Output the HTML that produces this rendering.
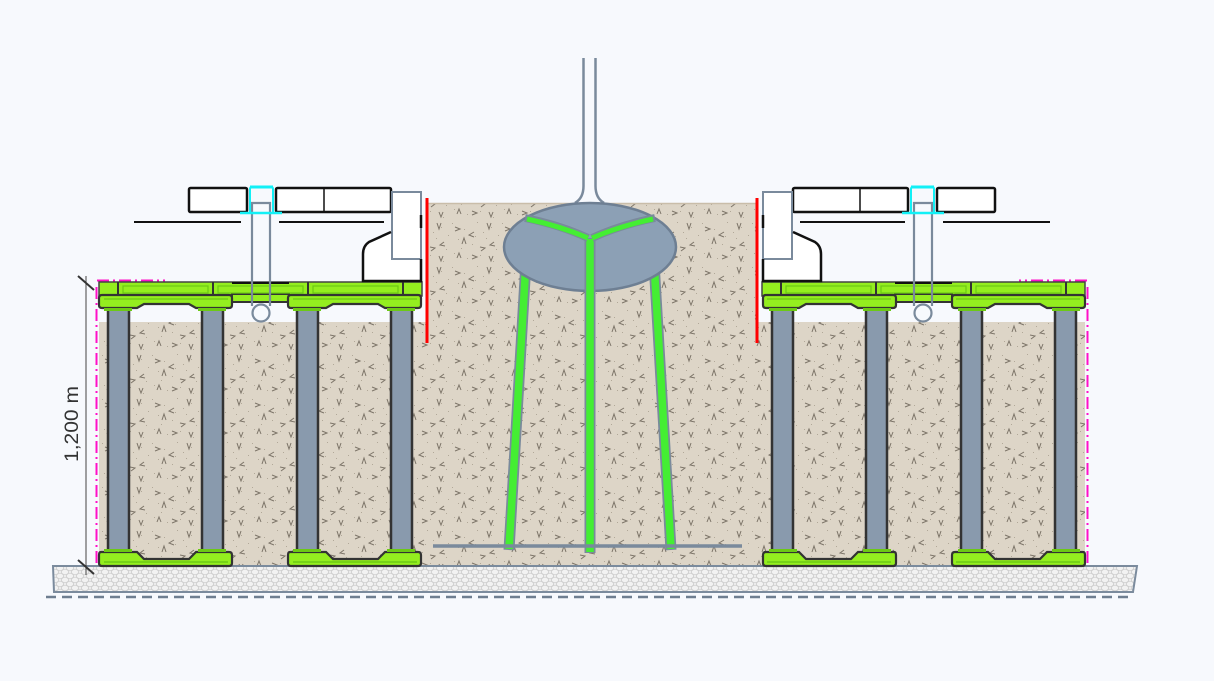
<!DOCTYPE html>
<html><head><meta charset="utf-8"><style>
html,body{margin:0;padding:0;background:#f7f9fd;}
svg{display:block;}
</style></head><body>
<svg xmlns="http://www.w3.org/2000/svg" width="1214" height="681" viewBox="0 0 1214 681">
<defs>
<pattern id="soil" width="50" height="44" patternUnits="userSpaceOnUse">
<rect width="50" height="44" fill="#ddd5c7"/>
<g fill="#b1a898">
<rect x="2" y="3" width="1" height="1"/><rect x="14" y="9" width="1" height="1"/><rect x="27" y="2" width="1" height="1"/><rect x="41" y="7" width="1" height="1"/>
<rect x="8" y="19" width="1" height="1"/><rect x="22" y="24" width="1" height="1"/><rect x="36" y="18" width="1" height="1"/><rect x="46" y="29" width="1" height="1"/>
<rect x="4" y="33" width="1" height="1"/><rect x="17" y="38" width="1" height="1"/><rect x="30" y="35" width="1" height="1"/><rect x="43" y="41" width="1" height="1"/>
<rect x="11" y="28" width="1" height="1"/><rect x="33" y="12" width="1" height="1"/><rect x="25" y="16" width="1" height="1"/><rect x="48" y="15" width="1" height="1"/>
</g>
<g fill="none" stroke="#7d7569" stroke-width="1">
<path d="M5 7 l5 2 l-5 2"/>
<path d="M24 12 l-5 3 l5 2"/>
<path d="M37 3 l2 6 l2 -6"/>
<path d="M12 24 l2 -6 l2 6"/>
<path d="M30 27 l5 1 l-4 3"/>
<path d="M44 22 l-4 3 l5 1"/>
<path d="M7 38 l2 -5 l2 5"/>
<path d="M22 35 l5 2 l-5 2"/>
<path d="M39 36 l2 5 l2 -5"/>
</g>
</pattern>
<pattern id="gravel" width="10" height="8" patternUnits="userSpaceOnUse">
<rect width="10" height="8" fill="#f2f2f2"/>
<g fill="none" stroke="#cfcfcf" stroke-width="0.9">
<ellipse cx="5" cy="4" rx="3.6" ry="2.8"/>
<ellipse cx="0" cy="0" rx="3.6" ry="2.8"/>
<ellipse cx="10" cy="0" rx="3.6" ry="2.8"/>
<ellipse cx="0" cy="8" rx="3.6" ry="2.8"/>
<ellipse cx="10" cy="8" rx="3.6" ry="2.8"/>
</g>
</pattern>
</defs>

<rect width="1214" height="681" fill="#f7f9fd"/>

<!-- soils -->
<rect x="99" y="322" width="986" height="244" fill="url(#soil)"/>
<rect x="428" y="203" width="329" height="363" fill="url(#soil)"/>
<line x1="428" y1="203.5" x2="757" y2="203.5" stroke="#c9bda9" stroke-width="1.5"/>

<!-- gravel base -->
<polygon points="53,566 1137,566 1133,592 54,592" fill="url(#gravel)" stroke="#7b8b9d" stroke-width="2"/>
<line x1="46" y1="597" x2="1130" y2="597" stroke="#6e7e90" stroke-width="2.5" stroke-dasharray="10 6"/>

<g id="L">
<!-- magenta dash-dot -->
<line x1="96.5" y1="287" x2="96.5" y2="566" stroke="#ff10c8" stroke-width="2" stroke-dasharray="12 4 2 4"/>
<line x1="97" y1="280.5" x2="165" y2="280.5" stroke="#ff10c8" stroke-width="2" stroke-dasharray="12 4 2 4"/>

<!-- pillars -->
<g fill="#899aad" stroke="#333" stroke-width="2.5">
<rect x="108" y="306" width="21" height="248"/>
<rect x="202" y="306" width="21" height="248"/>
<rect x="297" y="306" width="21" height="248"/>
<rect x="391" y="306" width="21" height="248"/>
</g>

<!-- bottom plates -->
<g fill="#94ee1f" stroke="#333" stroke-width="2.2">
<path d="M101,552 H137 L144,559 H189 L196,552 H229 Q232,552 232,555 V563 Q232,566 229,566 H102 Q99,566 99,563 V555 Q99,552 101,552 Z"/>
<path d="M290,552 H326 L333,559 H378 L385,552 H418 Q421,552 421,555 V563 Q421,566 418,566 H291 Q288,566 288,563 V555 Q288,552 290,552 Z"/>
</g>
<g fill="#6cc915">
<rect x="104" y="549" width="28" height="3"/><rect x="198" y="549" width="28" height="3"/>
<rect x="293" y="549" width="28" height="3"/><rect x="387" y="549" width="28" height="3"/>
</g>
<g stroke="#6cc915" stroke-width="1.5">
<line x1="104" y1="562" x2="228" y2="562"/><line x1="293" y1="562" x2="417" y2="562"/>
</g>

<!-- top deck -->
<rect x="99" y="282" width="323" height="14" fill="#94ee1f" stroke="#444" stroke-width="1.5"/>
<rect x="232" y="294" width="57" height="8" fill="#94ee1f" stroke="#333" stroke-width="2"/>
<line x1="232" y1="283" x2="289" y2="283" stroke="#111" stroke-width="2"/>
<g fill="none" stroke="#6cc915" stroke-width="1.2">
<rect x="123" y="286" width="85" height="7"/>
<rect x="218" y="286" width="85" height="7"/>
<rect x="313" y="286" width="85" height="7"/>
</g>
<g stroke="#333" stroke-width="2">
<line x1="118" y1="282" x2="118" y2="296"/>
<line x1="213" y1="282" x2="213" y2="296"/>
<line x1="308" y1="282" x2="308" y2="296"/>
<line x1="403" y1="282" x2="403" y2="296"/>
</g>
<!-- lower plates of top crates -->
<g fill="#94ee1f" stroke="#333" stroke-width="2.2">
<path d="M102,295 H229 Q232,295 232,298 V305 Q232,308 229,308 H196 L189,304 H144 L137,308 H102 Q99,308 99,305 V298 Q99,295 102,295 Z"/>
<path d="M291,295 H418 Q421,295 421,298 V305 Q421,308 418,308 H385 L378,304 H333 L326,308 H291 Q288,308 288,305 V298 Q288,295 291,295 Z"/>
</g>
<g fill="#6cc915">
<rect x="104" y="308" width="28" height="3"/><rect x="198" y="308" width="28" height="3"/>
<rect x="293" y="308" width="28" height="3"/><rect x="387" y="308" width="28" height="3"/>
</g>
<g stroke="#6cc915" stroke-width="1.2">
<line x1="104" y1="299" x2="228" y2="299"/><line x1="293" y1="299" x2="417" y2="299"/>
</g>

<!-- tube -->
<g fill="none" stroke="#7a8a9c" stroke-width="2.2">
<path d="M252,306 V203 H270 V306"/>
<circle cx="261" cy="313" r="8.5"/>
</g>

<!-- black lines -->
<g stroke="#111" stroke-width="2">
<line x1="134" y1="222" x2="241" y2="222"/>
<line x1="279" y1="222" x2="384" y2="222"/>
</g>

<!-- white boxes -->
<g fill="#fff" stroke="#111" stroke-width="2.5">
<rect x="189" y="188" width="58" height="24" rx="1.5"/>
<rect x="276" y="188" width="115" height="24" rx="1.5"/>
</g>
<line x1="324" y1="188" x2="324" y2="212" stroke="#111" stroke-width="1.5"/>

<!-- cyan channel -->
<path d="M250,212 V189 Q250,187 252,187 H271 Q273,187 273,189 V212" fill="none" stroke="#12f0f6" stroke-width="2"/>
<rect x="250" y="185.5" width="23" height="3" fill="#12f0f6"/>
<line x1="240" y1="213" x2="282" y2="213" stroke="#12f0f6" stroke-width="2.5"/>

<!-- curb -->
<path d="M392,192 H421 V281 H363 V254 Q363,246 368,242 L392,231 Z" fill="#fff"/>
<rect x="392" y="192" width="29" height="67" fill="none" stroke="#7a8a9c" stroke-width="2"/>
<path d="M391,232 L369,242 Q363,246 363,254 V281 H421 V259" fill="none" stroke="#111" stroke-width="2.5"/>
<line x1="421" y1="215" x2="421" y2="228" stroke="#111" stroke-width="2.5"/>

<!-- red line -->
<line x1="427" y1="198" x2="427" y2="343" stroke="#ff0000" stroke-width="3"/>
</g>

<use href="#L" transform="translate(1184,0) scale(-1,1)"/>

<!-- green legs (behind ellipse) -->
<g fill="none" stroke-linecap="butt">
<g stroke="#7a8a9c" stroke-width="11">
<line x1="526" y1="262" x2="509" y2="550"/>
<line x1="654" y1="262" x2="671" y2="550"/>
</g>
<g stroke="#44ee33" stroke-width="7.5">
<line x1="526" y1="262" x2="509" y2="549"/>
<line x1="654" y1="262" x2="671" y2="549"/>
</g>
</g>

<!-- central pole -->
<path d="M583.5,58 V186 Q583.5,198 575,203" fill="none" stroke="#7a8a9c" stroke-width="2.5"/>
<path d="M595.5,58 V186 Q595.5,198 604,203" fill="none" stroke="#7a8a9c" stroke-width="2.5"/>
<ellipse cx="590" cy="247" rx="86" ry="44" fill="#8ca0b5" stroke="#6e7f93" stroke-width="2.5"/>

<!-- center leg and arms -->
<g fill="none" stroke-linecap="butt">
<line x1="590" y1="238" x2="590" y2="553" stroke="#7a8a9c" stroke-width="11"/>
<line x1="590" y1="239" x2="590" y2="552" stroke="#44ee33" stroke-width="7.5"/>
<g stroke="#7a8a9c" stroke-width="8">
<path d="M525,218 Q560,225 588,238"/>
<path d="M655,218 Q620,225 592,238"/>
</g>
<g stroke="#44ee33" stroke-width="5">
<path d="M527,219 Q560,226 588,238"/>
<path d="M653,219 Q620,226 592,238"/>
</g>
</g>

<!-- horizontal bar -->
<line x1="433" y1="546" x2="742" y2="546" stroke="#7a8a9c" stroke-width="3.5"/>

<!-- dimension -->
<line x1="86" y1="276" x2="86" y2="575" stroke="#444" stroke-width="1"/>
<line x1="78" y1="276" x2="94" y2="290" stroke="#333" stroke-width="2"/>
<line x1="78" y1="560" x2="94" y2="574" stroke="#333" stroke-width="2"/>
<text x="0" y="0" transform="translate(78,424) rotate(-90)" text-anchor="middle" font-family="'Liberation Sans', 'DejaVu Sans', sans-serif" font-size="19" fill="#333" textLength="76" lengthAdjust="spacingAndGlyphs">1,200 m</text>
</svg>
</body></html>
